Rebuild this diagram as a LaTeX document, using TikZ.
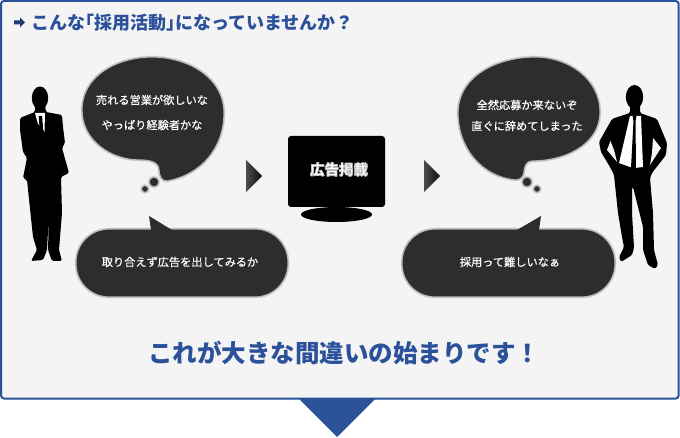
\documentclass[tikz,border=0pt]{standalone}
\usepackage{fontspec}
\newfontfamily\cjk{Noto Sans CJK JP}
\newfontfamily\cjkheavy[FakeBold=0.35]{Noto Sans CJK JP}
\newcommand{\glowtext}[1]{\special{pdf:code q 2 Tr 0.7 w 0.75 0.75 0.75 RG}#1\special{pdf:code 0 Tr Q}}
\definecolor{panelblue}{HTML}{2B519B}
\definecolor{panelgray}{HTML}{F4F4F4}
\definecolor{bubblegray}{HTML}{2D2D2D}
\definecolor{rimgray}{HTML}{B8B8B8}
\tikzset{
	bubble/.style={fill=bubblegray, draw=rimgray, line width=1.2pt, preaction={draw=rimgray!55, line width=2.6pt}},
	saying/.style={text=white, font=\cjkheavy\fontsize{11.2}{11.2}\selectfont, inner sep=0pt},
	headline/.style={text=panelblue, inner sep=0pt},
	pointer/.style={left color=black!70, right color=black!95},
	man/.style={fill=black, rounded corners=1.5pt},
}
\begin{document}
\begin{tikzpicture}[x=1pt, y=-1pt]
		\useasboundingbox (0,0) rectangle (680,438);
		\fill [panelblue] (298,398) -- (376,398) -- (337,437) -- cycle;
		\draw [fill=panelgray, draw=panelblue, line width=2pt, rounded corners=3pt] (1,1) rectangle (678.7,398.5);

		\fill [panelblue!75!black] (14,20.5) -- (20,20.5) -- (20,17.5) -- (25,22.5) -- (20,27.5) -- (20,24.5) -- (14,24.5) -- cycle;
		\node [headline, anchor=west] (title) at (31,22.5) {\cjk\bfseries\fontsize{18}{18}\selectfont こんな\kern-9pt「採用活動」\kern-9pt になっていませんか？};

		% left man
		\fill [man] (40,98) ellipse (8.2 and 11.5);
		\fill [man] (35,105) -- (35,112) -- (20,118) -- (20,130) -- (23,152) -- (27,158) -- (23,178) -- (27,180) -- (33,237) -- (37,250) -- (31,261) -- (43,260) -- (47,250) -- (49,213) -- (43,183) -- (49,213) -- (48,250) -- (52,261) -- (62,261) -- (59,250) -- (62,213) -- (61,177) -- (69,173) -- (62,148) -- (65,143) -- (63,127) -- (62,115) -- (46,112) -- (45,105) -- cycle;
		\fill [white] (35,113) -- (45,113) -- (44.5,132) -- (42,127) -- (38,124) -- cycle;
		\fill [man, rounded corners=0pt] (38.7,116) -- (42,116) -- (43,127) -- (41.5,133) -- (39.5,127) -- cycle;

		% right man
		\fill [man] (634.5,97) ellipse (8.7 and 12);
		\fill [man] (630,105) -- (630,113) -- (612,119) -- (599,142) -- (601,152) -- (610,167) -- (614,175) -- (618,213) -- (622,237) -- (624,247) -- (619,257) -- (621,262) -- (632,255) -- (634,248) -- (632,213) -- (632,187) -- (633,187) -- (643,227) -- (643,250) -- (648,265) -- (655,269) -- (658,265) -- (654,250) -- (653,213) -- (650,178) -- (652,173) -- (666,155) -- (667,143) -- (657,119) -- (640,113) -- (640,105) -- cycle;
		\fill [panelgray] (610.5,141) -- (607,150) -- (617,162) -- (614,150) -- cycle;
		\fill [panelgray] (653,138) -- (661,148) -- (650,165) -- (652,153) -- cycle;
		\fill [white] (630,116) -- (641,116) -- (643,167) -- (635,168) -- (630,167) -- (619,163) -- cycle;
		\fill [man, rounded corners=0pt] (632.5,116) -- (636.5,116) -- (635.5,121) -- (636,168) -- (631,168) -- (633.5,121) -- cycle;

		% thought bubbles
		\draw [bubble] (152,57) to [out=0, in=90] (224,113) to [out=-90, in=10] (167,181) to [out=190, in=-90] (159,170) to [out=90, in=0] (140,160) to [out=180, in=-90] (82,110) to [out=90, in=180] cycle;
		\draw [bubble] (154,182) circle (5);
		\draw [bubble] (145,189) circle (3.5);
		\node [saying] (want) at (152,100) {売れる営業が欲しいな};
		\node [saying] (exp) at (152,125) {やっぱり経験者かな};

		\draw [bubble] (535,57) to [out=0, in=90] (600,112) to [out=-90, in=0] (532,161) to [out=180, in=90] (524,172) to [out=-90, in=0] (516,180) to [out=175, in=-90] (458,113) to [out=90, in=180] cycle;
		\draw [bubble] (527,182) circle (5);
		\draw [bubble] (537,189) circle (3.5);
		\node [saying] (noone) at (527,105) {全然応募か来ないぞ};
		\node [saying] (quit) at (527,126) {直ぐに辞めてしまった};

		% speech bubbles
		\draw [bubble, rounded corners=33pt] (76,229) rectangle (288,297);
		\fill [bubblegray] (149,216) -- (172,230) -- (151,230) -- cycle;
		\node [saying] (ad) at (180,262) {取り合えず広告を出してみるか};

		\draw [bubble, rounded corners=33pt] (402,229) rectangle (615,297);
		\fill [bubblegray] (541,216) -- (517,230) -- (539,230) -- cycle;
		\node [saying] (hard) at (510,262) {採用って難しいなぁ};

		% monitor
		\fill [black, rounded corners=3pt] (288,136) rectangle (385,207);
		\fill [black] (334,205) rectangle (339,209);
		\fill [black] (336.5,214.5) ellipse (35.5 and 7.5);
		\node [inner sep=0pt, text=white] (post) at (339,169.5) {\cjk\bfseries\fontsize{14.5}{14.5}\selectfont\glowtext{広告掲載}};

		\shade [pointer] (246,160) -- (262,176) -- (246,192) -- cycle;
		\shade [pointer] (424,160) -- (440,176) -- (424,192) -- cycle;

		\node [headline] (warn) at (344,353) {\cjk\bfseries\fontsize{24.5}{24.5}\selectfont これが大きな間違いの始まりです！};
	\end{tikzpicture}
\end{document}
